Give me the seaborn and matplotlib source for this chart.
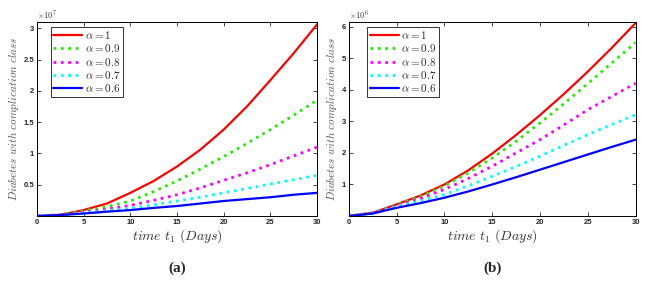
# IMPORTING LIBRARIES

import matplotlib
matplotlib.use('Agg')
import matplotlib.pyplot as plt
import seaborn as sns
import numpy as np
import pandas as pd


# DATA

time_days = [0, 2.5, 5, 7.5, 10, 12.5, 15, 17.5, 20, 22.5, 25, 27.5, 30]
alpha_labels = [r'$\alpha = 1$', r'$\alpha = 0.9$', r'$\alpha = 0.8$', r'$\alpha = 0.7$', r'$\alpha = 0.6$']

# panel (a), units of 1e7
a_alpha_1 = [0, 0.02, 0.095, 0.2, 0.37, 0.56, 0.79, 1.06, 1.38, 1.75, 2.17, 2.6, 3.06]
a_alpha_09 = [0, 0.02, 0.08, 0.15, 0.24, 0.39, 0.56, 0.75, 0.95, 1.16, 1.38, 1.61, 1.85]
a_alpha_08 = [0, 0.02, 0.06, 0.11, 0.17, 0.25, 0.34, 0.45, 0.57, 0.69, 0.82, 0.96, 1.1]
a_alpha_07 = [0, 0.015, 0.05, 0.085, 0.12, 0.18, 0.24, 0.3, 0.37, 0.44, 0.51, 0.58, 0.65]
a_alpha_06 = [0, 0.015, 0.04, 0.07, 0.095, 0.13, 0.16, 0.2, 0.24, 0.27, 0.3, 0.34, 0.37]

# panel (b), units of 1e6
b_alpha_1 = [0, 0.1, 0.37, 0.65, 1.0, 1.45, 1.98, 2.57, 3.2, 3.87, 4.58, 5.33, 6.12]
b_alpha_09 = [0, 0.1, 0.36, 0.62, 0.95, 1.37, 1.84, 2.37, 2.95, 3.56, 4.2, 4.85, 5.5]
b_alpha_08 = [0, 0.1, 0.33, 0.56, 0.84, 1.19, 1.58, 2.0, 2.42, 2.89, 3.37, 3.79, 4.21]
b_alpha_07 = [0, 0.09, 0.3, 0.48, 0.68, 0.96, 1.26, 1.57, 1.9, 2.24, 2.58, 2.9, 3.21]
b_alpha_06 = [0, 0.08, 0.26, 0.41, 0.58, 0.78, 1.0, 1.23, 1.47, 1.71, 1.95, 2.19, 2.42]

x_ticks = [0, 5, 10, 15, 20, 25, 30]
a_y_ticks = [0.5, 1, 1.5, 2, 2.5, 3]
b_y_ticks = [1, 2, 3, 4, 5, 6]


# STYLE

sns.set_style('ticks')
plt.rcParams['font.family'] = ['Liberation Sans', 'DejaVu Sans']
plt.rcParams['mathtext.fontset'] = 'cm'

colors = ['#ff0000', '#22ee00', '#ff00ff', '#00ffff', '#0000ff']
styles = ['-', ':', ':', ':', '-']
widths = [1.6, 2.0, 2.0, 2.0, 1.6]


# PLOTTING

fig = plt.figure(figsize=(6.52, 2.85), dpi=100)
ax_a = fig.add_axes([0.0567, 0.242, 0.4295, 0.681])
ax_b = fig.add_axes([0.535, 0.242, 0.440, 0.681])


def draw_panel(ax, series, scale, power, y_ticks, y_top, tag, leg_anchor):
    for vals, lab, c, ls, lw in zip(series, alpha_labels, colors, styles, widths):
        df = pd.DataFrame({'t': time_days, 'y': np.array(vals) * scale})
        sns.lineplot(data=df, x='t', y='y', ax=ax, color=c, linestyle=ls,
                     linewidth=lw, label=lab)
    ax.set_xlim(0, 30)
    ax.set_ylim(0, y_top * scale)
    ax.set_xticks(x_ticks)
    ax.set_yticks(np.array(y_ticks) * scale)
    ax.set_yticklabels([('%g' % v) for v in y_ticks])
    ax.tick_params(direction='in', top=True, right=True, labelsize=5.5,
                   length=3, width=0.6, pad=2)
    for lbl in ax.get_xticklabels() + ax.get_yticklabels():
        lbl.set_fontweight('bold')
    for sp in ax.spines.values():
        sp.set_linewidth(0.7)
        sp.set_color('black')
    ax.text(0.0, 1.005, r'$\times10^{%d}$' % power, transform=ax.transAxes,
            fontsize=6, ha='left', va='bottom', color='#333333')
    ax.set_xlabel(r'$\mathit{time}\ t_1\ (\mathit{Days})$', fontsize=10, labelpad=1,
                  color='#333333')
    ax.set_ylabel(r'$\mathit{Diabetes\ with\ complication\ class}$', fontsize=8,
                  labelpad=2, color='#555555')
    leg = ax.legend(loc='upper left', bbox_to_anchor=leg_anchor, fontsize=8,
                    frameon=True, fancybox=False, edgecolor='black',
                    handlelength=2.6, handletextpad=0.25, borderpad=0.2,
                    labelspacing=0.12, borderaxespad=0)
    leg.get_frame().set_linewidth(0.7)
    ax.text(0.5, -0.27, tag, transform=ax.transAxes, fontsize=11,
            fontweight='bold', family='Liberation Serif', ha='center', va='center')


draw_panel(ax_a, [a_alpha_1, a_alpha_09, a_alpha_08, a_alpha_07, a_alpha_06],
           1e7, 7, a_y_ticks, 3.1, '(a)', (0.05, 0.975))
draw_panel(ax_b, [b_alpha_1, b_alpha_09, b_alpha_08, b_alpha_07, b_alpha_06],
           1e6, 6, b_y_ticks, 6.15, '(b)', (0.065, 0.975))

fig.savefig('out.png', dpi=100)
